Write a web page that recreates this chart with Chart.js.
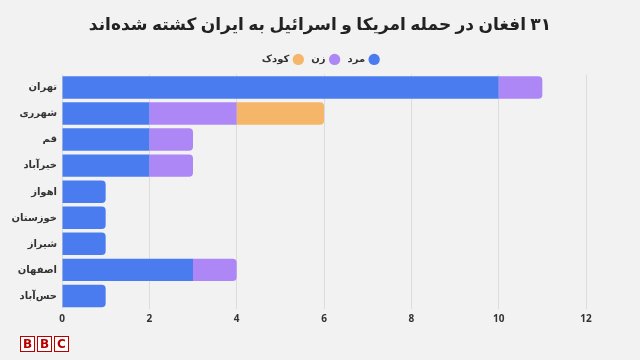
<!DOCTYPE html>
<html>
<head>
<meta charset="utf-8">
<script src="https://cdn.jsdelivr.net/npm/chart.js@4.4.1/dist/chart.umd.min.js"></script>
<style>
    html, body { margin: 0; padding: 0; background: #f2f2f2; }
    #wrap { position: relative; width: 640px; height: 360px; }
    #logo { position: absolute; left: 20px; top: 336px; display: flex; gap: 2px; }
    #logo span {
        width: 13px; height: 14px; border: 1.5px solid #b80000; color: #b80000;
        font: bold 12px "DejaVu Sans", sans-serif; line-height: 14px; text-align: center;
        background: #fff;
    }
</style>
</head>
<body>
<div id="wrap">
    <canvas id="chart" width="640" height="360"></canvas>
    <div id="logo"><span>B</span><span>B</span><span>C</span></div>
</div>
<script>
const titleText = '۳۱ افغان در حمله امریکا و اسرائیل به ایران کشته شده‌اند';
const cities = ['تهران', 'شهرری', 'قم', 'خیرآباد', 'اهواز', 'خوزستان', 'شیراز', 'اصفهان', 'حس‌آباد'];
const men = [10, 2, 2, 2, 1, 1, 1, 3, 1];
const women = [1, 2, 1, 1, 0, 0, 0, 1, 0];
const children = [0, 2, 0, 0, 0, 0, 0, 0, 0];
const xTicks = [0, 2, 4, 6, 8, 10, 12];

const fontFamily = '"Noto Sans", "DejaVu Sans", sans-serif';
const ctx = document.getElementById('chart').getContext('2d');

// title and legend should be centred on the whole page, not on the padded area
const centerHeader = {
    id: 'centerHeader',
    afterLayout(chart) {
        [chart.titleBlock, chart.legend].forEach(box => {
            if (!box) return;
            box.left = 0;
            box.right = chart.width;
            box.width = chart.width;
        });
    }
};

new Chart(ctx, {
    type: 'bar',
    data: {
        labels: cities,
        datasets: [
            { label: 'مرد', data: men, backgroundColor: '#4a7cf0' },
            { label: 'زن', data: women, backgroundColor: '#ad87f5' },
            { label: 'کودک', data: children, backgroundColor: '#f5b66a' }
        ]
    },
    options: {
        indexAxis: 'y',
        responsive: false,
        animation: false,
        layout: { padding: { left: 0, right: 54, top: 0, bottom: 31 } },
        datasets: {
            bar: { barPercentage: 0.86, categoryPercentage: 1, borderRadius: 4, borderSkipped: 'start' }
        },
        plugins: {
            title: {
                display: true,
                text: titleText,
                color: '#222',
                font: { family: fontFamily, size: 17, weight: 'bold' },
                padding: { top: 15, bottom: 10 }
            },
            legend: {
                rtl: true,
                textDirection: 'rtl',
                labels: {
                    usePointStyle: true,
                    pointStyle: 'circle',
                    boxWidth: 8,
                    boxHeight: 8,
                    padding: 9,
                    color: '#333',
                    font: { family: fontFamily, size: 10, weight: 'bold' }
                }
            },
            tooltip: { enabled: false }
        },
        scales: {
            x: {
                stacked: true,
                min: 0,
                max: 12,
                afterBuildTicks: (scale) => { scale.ticks = xTicks.map(v => ({ value: v })); },
                grid: { color: '#dcdcdc', drawTicks: false },
                border: { display: false },
                ticks: {
                    padding: 4,
                    color: '#333',
                    font: { family: fontFamily, size: 10, weight: 'bold' }
                }
            },
            y: {
                stacked: true,
                afterFit: (scale) => { scale.width = 62; },
                grid: { display: false, drawTicks: false },
                border: { display: false },
                ticks: {
                    padding: 5,
                    color: '#333',
                    font: { family: fontFamily, size: 10, weight: 'bold' }
                }
            }
        }
    },
    plugins: [centerHeader]
});
</script>
</body>
</html>
